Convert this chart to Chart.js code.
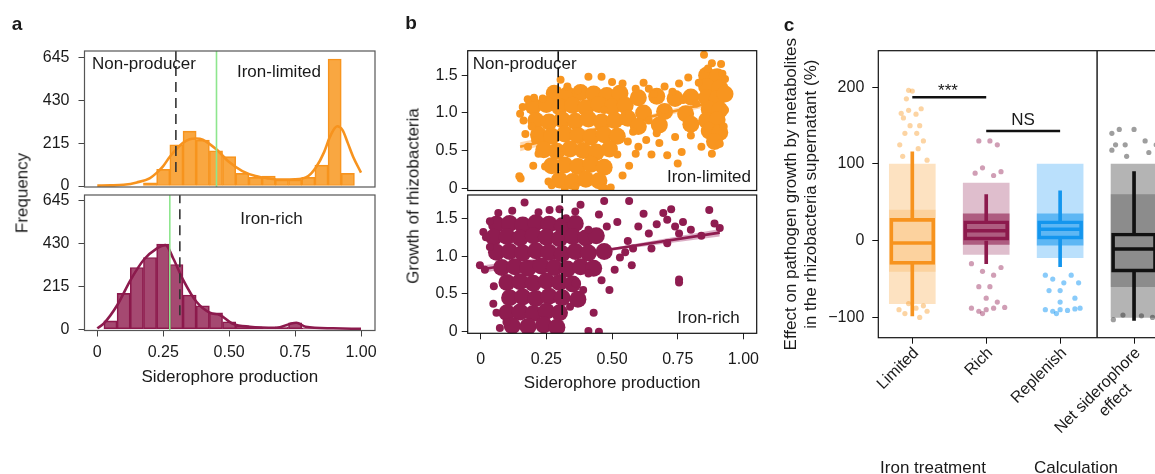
<!DOCTYPE html>
<html><head><meta charset="utf-8">
<script src="https://cdn.jsdelivr.net/npm/chart.js@4.4.1/dist/chart.umd.min.js"></script>
<style>
html,body{margin:0;padding:0;background:#fff;overflow:hidden;width:1155px;height:474px;}
#wrap{position:relative;width:1155px;height:474px;overflow:hidden;font-family:"Liberation Sans",Arial,Helvetica,sans-serif;color:#1a1a1a;}
canvas{position:absolute;left:0;top:0;}
.t{position:absolute;white-space:nowrap;font-size:17px;line-height:1;transform:translate(-50%,-50%);}
.r{transform:translate(-50%,-50%) rotate(-90deg);}
.b{font-weight:bold;font-size:19px;}
</style></head>
<body><div id="wrap"></div>
<script>
// ---------------- DATA ----------------
// Panel a: histograms of siderophore production (bin centres, counts)
const limitedBins   = [0.20,0.25,0.30,0.35,0.40,0.45,0.50,0.55,0.60,0.65,0.70,0.75,0.80,0.85,0.90,0.95];
const limitedCounts = [16,83,207,275,230,177,147,63,43,50,30,30,43,105,637,63];
const richBins      = [0.05,0.10,0.15,0.20,0.25,0.30,0.35,0.40,0.45,0.50,0.55,0.60,0.65,0.70,0.75,0.80,0.85,0.90,0.95];
const richCounts    = [42,180,310,360,427,325,172,118,83,38,18,13,10,13,33,8,4,3,2];
// density curves (scaled to counts)
const limitedKdeX = [0,0.05,0.10,0.15,0.20,0.225,0.25,0.275,0.30,0.325,0.35,0.375,0.40,0.45,0.50,0.55,0.60,0.65,0.70,0.75,0.80,0.83,0.86,0.88,0.90,0.91,0.93,0.95,0.97,1.0];
const limitedKdeY = [2,3,6,18,40,66,100,147,185,217,235,238,232,185,120,75,50,38,32,33,50,95,170,240,290,300,280,215,147,67];
const richKdeX = [0,0.025,0.076,0.126,0.177,0.225,0.259,0.288,0.326,0.376,0.427,0.465,0.515,0.578,0.68,0.73,0.755,0.79,0.894,1.0];
const richKdeY = [5,30,122,247,350,405,422,355,247,138,83,72,27,13,8,27,33,13,5,2];
// thresholds (x positions) and axis ticks
const freqTicks = [0,215,430,645];
const sidTicks = [0,0.25,0.5,0.75,1];
const sidTickLabels = ['0','0.25','0.50','0.75','1.00'];
const nonProducerLimitedA = 0.298, meanLimitedA = 0.452;
const nonProducerRichA = 0.313, meanRichA = 0.275;

// Panel b: growth vs siderophore production  [x, y]
const growthTicks = [0,0.5,1,1.5];
const growthTickLabels = ['0','0.5','1.0','1.5'];
const limitedScatter = [[0.147,0.16],[0.152,0.13],[0.15,0.99],[0.163,0.90],[0.179,1.18],[0.203,1.20],[0.236,1.19],[0.194,0.82],[0.207,0.64],[0.22,0.46],[0.245,0.29],[0.258,0.09],[0.27,0.04],[0.304,1.44],[0.28,1.30],[0.33,1.35],[0.37,1.30],[0.41,1.48],[0.46,1.48],[0.50,1.41],[0.54,1.39],[0.59,1.32],[0.64,1.32],[0.70,1.35],[0.755,1.39],[0.79,1.47],[0.85,1.77],[0.88,1.66],[0.915,1.65],[0.865,1.59],[0.92,1.52],[0.46,0.02],[0.47,0.0],[0.495,0.01],[0.54,0.17],[0.565,0.30],[0.59,0.46],[0.63,0.64],[0.67,0.73],[0.71,0.44],[0.75,0.33],[0.765,0.48],[0.74,0.68],[0.88,0.46],[0.91,0.59],[0.925,0.82],[0.93,1.04],[0.82,1.12],[0.77,1.17],[0.70,1.04],[0.64,0.90],[0.565,0.98],[0.47,1.04],[0.20,0.30],[0.18,0.55],[0.60,0.55],[0.68,0.60],[0.52,0.45],[0.56,0.62],[0.80,0.70],[0.84,0.55],[0.93,1.45],[0.83,1.40],[0.66,1.25],[0.36,0.02],[0.32,0.0],[0.17,0.72],[0.16,1.08],[0.62,1.40],[0.73,1.28],[0.58,0.75],[0.65,0.45]];
const limitedCore = [
 [0.28,1.26],[0.33,1.24],[0.38,1.27],[0.43,1.25],[0.48,1.23],[0.53,1.26],
 [0.20,1.09],[0.25,1.11],[0.30,1.08],[0.35,1.10],[0.40,1.07],[0.45,1.11],[0.50,1.08],[0.55,1.10],
 [0.21,0.90],[0.26,0.88],[0.31,0.91],[0.36,0.89],[0.41,0.92],[0.46,0.88],[0.51,0.90],[0.56,0.93],
 [0.22,0.71],[0.27,0.69],[0.32,0.72],[0.37,0.70],[0.42,0.68],[0.47,0.71],[0.52,0.69],
 [0.24,0.51],[0.29,0.49],[0.34,0.52],[0.39,0.50],[0.44,0.48],[0.49,0.52],
 [0.27,0.30],[0.32,0.31],[0.37,0.29],[0.42,0.32],[0.47,0.28],
 [0.30,0.11],[0.35,0.09],[0.40,0.12],[0.45,0.10],
 [0.60,1.20],[0.67,1.22],[0.74,1.19],[0.80,1.21],[0.62,1.00],[0.70,1.02],[0.78,0.99],[0.60,0.82],[0.68,0.84],[0.80,0.85],
 [0.86,1.50],[0.90,1.48],[0.86,1.35],[0.91,1.33],[0.86,1.20],[0.90,1.19],[0.87,1.05],[0.91,1.04],[0.86,0.90],[0.90,0.91],
 [0.87,0.76],[0.91,0.74],[0.89,0.62],[0.93,1.25]];
const richScatter = [[-0.003,0.88],[0.016,0.82],[0.01,1.32],[0.035,1.46],[0.067,1.57],[0.035,1.12],[0.048,0.37],[0.073,0.05],[0.098,0.13],[0.167,1.71],[0.262,1.61],[0.325,1.50],[0.38,1.68],[0.36,1.59],[0.47,1.73],[0.565,1.73],[0.41,0.01],[0.45,0.0],[0.43,0.25],[0.49,0.55],[0.46,0.68],[0.51,0.82],[0.575,0.88],[0.53,0.98],[0.56,1.20],[0.62,1.56],[0.695,1.57],[0.725,1.62],[0.71,1.48],[0.74,1.39],[0.755,1.30],[0.71,1.17],[0.64,1.30],[0.60,1.39],[0.87,1.61],[0.89,1.43],[0.91,1.37],[0.84,1.27],[0.755,0.69],[0.755,0.65],[0.48,1.39],[0.41,1.35],[0.36,0.64],[0.34,0.33],[0.39,0.55],[0.41,0.77],[0.02,1.25],[0.05,0.60],[0.06,0.25],[0.55,1.05],[0.65,1.10],[0.80,1.35],[0.77,1.45],[0.67,1.42],[0.12,1.60],[0.22,1.58],[0.30,1.62],[0.45,1.55],[0.52,1.45],[0.58,1.10]];
const richCore = [
 [0.06,1.42],[0.11,1.43],[0.16,1.41],[0.21,1.44],[0.26,1.42],[0.31,1.40],[0.36,1.43],
 [0.05,1.25],[0.10,1.26],[0.15,1.24],[0.20,1.27],[0.25,1.25],[0.30,1.23],[0.35,1.26],[0.40,1.24],[0.44,1.27],
 [0.06,1.05],[0.11,1.06],[0.16,1.04],[0.21,1.07],[0.26,1.05],[0.31,1.03],[0.36,1.06],[0.41,1.04],[0.47,1.06],
 [0.08,0.85],[0.13,0.86],[0.18,0.84],[0.23,0.87],[0.28,0.85],[0.33,0.83],[0.38,0.86],[0.43,0.84],
 [0.10,0.65],[0.15,0.66],[0.20,0.64],[0.25,0.67],[0.30,0.65],[0.35,0.63],
 [0.11,0.45],[0.16,0.46],[0.21,0.44],[0.26,0.47],[0.31,0.45],[0.37,0.43],
 [0.10,0.25],[0.15,0.26],[0.20,0.24],[0.25,0.27],[0.30,0.25],
 [0.12,0.08],[0.18,0.07],[0.24,0.09],[0.29,0.06]];
const limitedFitX = [0.15,0.53,0.92], limitedFitY = [0.55,0.856,1.17], limitedFitHi = [0.61,0.875,1.22], limitedFitLo = [0.49,0.837,1.12];
const richFitX = [0.01,0.46,0.91], richFitY = [0.83,1.07,1.31], richFitHi = [0.88,1.085,1.36], richFitLo = [0.78,1.055,1.26];
const nonProducerLimitedB = 0.295, nonProducerRichB = 0.31;

// Panel c: effect on pathogen growth (%)
const effectTicks = [-100,0,100,200];
const effectTickLabels = ['\u2212100','0','100','200'];
const treatments = [1,2,3,4];
const treatmentLabels = ['Limited','Rich','Replenish',['Net siderophore','effect\u2003\u2003']];
const whiskerLow  = [-98,-30,-34,-104];
const quart1      = [-31,0,2,-41];
const medians     = [-3,13,15,-11];
const quart3      = [29,26,26,10];
const whiskerHigh = [116,60,65,90];
const cloudLow    = [-82,-18,-22,-100];
const cloudHigh   = [100,75,100,100];
const coreLow     = [-40,-5,-6,-60];
const coreHigh    = [40,35,35,60];
const jitterLimited = [[0.85,166],[0.88,160],[0.95,170],[1.05,165],[1.12,172],[1.10,150],[0.97,150],[0.90,140],[1.15,130],[0.83,125],[1.00,195],[0.95,196],[1.08,120],[0.87,110],[1.20,105],[1.06,140],[0.92,185],[0.82,-90],[0.90,-95],[1.10,-100],[1.15,-85],[0.95,-82],[1.05,-88],[1.20,-92]];
const jitterRich = [[1.90,130],[2.05,130],[2.15,125],[1.95,95],[2.20,90],[1.85,88],[2.10,85],[1.80,-30],[1.95,-40],[2.10,-45],[2.20,-35],[1.90,-60],[2.05,-60],[2.00,-75],[1.80,-88],[1.90,-92],[2.00,-90],[2.10,-88],[2.25,-87],[1.95,-95],[2.15,-80]];
const jitterReplenish = [[2.80,-45],[2.90,-50],[3.05,-55],[3.15,-45],[3.25,-55],[2.85,-65],[3.00,-65],[3.20,-75],[3.00,-80],[2.80,-90],[2.90,-92],[3.00,-90],[3.10,-91],[3.20,-89],[3.27,-88],[2.95,-95]];
const jitterNet = [[3.70,140],[3.80,145],[3.88,125],[4.00,145],[3.75,125],[4.15,130],[4.30,125],[3.70,118],[3.90,110],[4.20,115],[3.72,-103],[3.85,-97],[4.10,-98],[4.25,-100]];
const sigLimitedRich = [[1,2],187];
const sigRichReplenish = [[2,3],143];

// ---------------- SETUP ----------------
const FONT = '"Liberation Sans", Arial, Helvetica, sans-serif';
Chart.defaults.font.family = FONT;
Chart.defaults.font.size = 16;
Chart.defaults.color = '#1a1a1a';
Chart.defaults.animation = false;
Chart.defaults.plugins.legend.display = false;
Chart.defaults.plugins.tooltip.enabled = false;

const ORANGE = '#F7931E', ORANGE_FILL = 'rgba(248,152,32,0.85)';
const MAROON = '#8C1A4D', MAROON_FILL = 'rgba(142,27,78,0.80)';
const BLUE = '#1496EE';
const GREEN = '#8EE68E';
const wrap = document.getElementById('wrap');

const framePlugin = {
  id:'frame',
  afterDraw(chart, args, opts){
    const {ctx, chartArea:a} = chart;
    ctx.save(); ctx.strokeStyle = opts.color || '#111'; ctx.lineWidth = opts.width || 1.2;
    ctx.strokeRect(a.left, a.top, a.right-a.left, a.bottom-a.top); ctx.restore();
  }
};

function canvas(w,h){
  const c = document.createElement('canvas'); c.width=w; c.height=h;
  c.style.width=w+'px'; c.style.height=h+'px'; wrap.appendChild(c); return c.getContext('2d');
}
function axis(pos, min, max, vals, labels, size, o){
  o = o || {};
  const hor = (pos === 'bottom');
  const shown = o.display !== false;
  return {
    type:'linear', position:pos, min, max, offset:false, display:shown,
    afterBuildTicks: s => { s.ticks = vals.map(v => ({value:v})); },
    afterFit: s => { if (!shown) return; if (hor) s.height = size; else s.width = size; },
    ticks:{ autoSkip:false, padding:(o.pad !== undefined ? o.pad : 6), labelOffset:o.lo || 0, color:'#1a1a1a', font:{size:16},
            maxRotation:o.rot || 0, minRotation:o.rot || 0, callback:(v,i) => labels[i] },
    grid:{ display:true, drawOnChartArea:false, drawTicks:true, tickLength:6, color:o.tc || '#222', offset:false },
    border:{ display:false },
    title: o.title ? { display:true, text:o.title, font:{size:17}, color:'#1a1a1a', padding:0 } : { display:false }
  };
}
const pts = arr => arr.map(p => ({x:p[0], y:p[1]}));
const zipXY = (xs, ys) => xs.map((x,i) => ({x, y:ys[i]}));
const vline = (x, y0, y1) => [{x, y:y0}, {x, y:y1}];

function lineDS(data, color, width, dash, order){
  return { type:'line', data, borderColor:color, borderWidth:width, borderDash:dash || [], pointRadius:0, fill:false, order, tension:0 };
}

// ---------------- PANEL a ----------------
function histChart(top, bottom, yMin, yMax, bins, counts, kx, ky, fill, edge, dashX, dashFrom, greenX, showX){
  const padBottom = showX ? 86.8 : 474 - bottom;
  new Chart(canvas(1155,474), {
    type:'bar',
    data:{ datasets:[
      lineDS(vline(dashX, dashFrom, yMax), '#333', 1.6, [10,6], 0),
      lineDS(vline(greenX, yMin, yMax), GREEN, 1.6, [], 1),
      Object.assign(lineDS(zipXY(kx, ky), edge, 2.6, [], 2), {cubicInterpolationMode:'monotone'}),
      { type:'bar', data:zipXY(bins, counts), backgroundColor:fill, borderColor:edge, borderWidth:1,
        barPercentage:1, categoryPercentage:1, grouped:false, borderSkipped:false, order:5 }
    ]},
    options:{
      responsive:false, animation:false,
      layout:{ padding:{ left:0, top:top, right:780, bottom:padBottom } },
      scales:{
        x: axis('bottom', -0.0485, 1.053, sidTicks, sidTickLabels, 56.7, {display:showX, pad:6, tc:'#444', title:'Siderophore production'}),
        y: axis('left', yMin, yMax, freqTicks, freqTicks.map(String), 84.5, {pad:9, tc:'#444'})
      },
      plugins:{ frame:{ color:'#555' } }
    },
    plugins:[framePlugin]
  });
}
histChart(51, 187, -5, 677, limitedBins, limitedCounts, limitedKdeX, limitedKdeY, ORANGE_FILL, ORANGE, nonProducerLimitedA, 70, meanLimitedA, false);
histChart(195, 330.5, -6, 673.6, richBins, richCounts, richKdeX, richKdeY, MAROON_FILL, MAROON, nonProducerRichA, 70, meanRichA, true);

// ---------------- PANEL b ----------------
function scatterChart(top, bottom, yMin, yMax, scatter, core, fx, fy, fhi, flo, color, bandColor, dashX, dashFrom, showX){
  const padBottom = showX ? 80.8 : 474 - bottom;
  new Chart(canvas(1155,474), {
    type:'scatter',
    data:{ datasets:[
      lineDS(vline(dashX, dashFrom, yMax), '#111', 1.6, [10,6], 0),
      { type:'scatter', data:pts(scatter), backgroundColor:color, borderWidth:0, pointRadius:4, order:1 },
      { type:'scatter', data:pts(core), backgroundColor:color, borderWidth:0, pointRadius:8.5, order:2 },
      lineDS(zipXY(fx, fy), color, 2.6, [], 3),
      { type:'line', data:zipXY(fx, fhi), borderWidth:0, pointRadius:0, backgroundColor:bandColor, fill:'+1', order:4 },
      { type:'line', data:zipXY(fx, flo), borderWidth:0, pointRadius:0, fill:false, order:5 }
    ]},
    options:{
      responsive:false, animation:false,
      layout:{ padding:{ left:0, top:top, right:398.3, bottom:padBottom } },
      scales:{
        x: axis('bottom', -0.0495, 1.0506, sidTicks, sidTickLabels, 59.9, {display:showX, pad:11, title:'Siderophore production'}),
        y: axis('left', yMin, yMax, growthTicks, growthTickLabels, 467.7, {pad:4})
      },
      plugins:{ frame:{ color:'#111' } }
    },
    plugins:[framePlugin]
  });
}
scatterChart(50.7, 190.5, -0.029, 1.825, limitedScatter, limitedCore, limitedFitX, limitedFitY, limitedFitHi, limitedFitLo,
  '#F8951F', 'rgba(255,175,90,0.5)', nonProducerLimitedB, 0.2, false);
scatterChart(195, 333.3, -0.021, 1.808, richScatter, richCore, richFitX, richFitY, richFitHi, richFitLo,
  '#8F1C50', 'rgba(195,120,158,0.6)', nonProducerRichB, 0.22, true);

// ---------------- PANEL c ----------------
const boxColors = ['#F7931E', '#8C1A4D', BLUE, '#111111'];
const cloudColors = ['rgba(249,160,50,0.30)','rgba(150,40,90,0.30)','rgba(40,160,245,0.32)','rgba(40,40,40,0.35)'];
const coreColors = ['rgba(249,160,50,0.25)','rgba(140,26,77,0.60)','rgba(20,150,238,0.55)','rgba(20,20,20,0.25)'];
const jitterColors = ['rgba(249,160,50,0.45)','rgba(150,40,90,0.45)','rgba(40,160,245,0.55)','rgba(40,40,40,0.45)'];
const jitters = [jitterLimited, jitterRich, jitterReplenish, jitterNet];
const cDatasets = [];
treatments.forEach((t,i) => {
  cDatasets.push({ type:'bar', data:[{x:t, y:[cloudLow[i], cloudHigh[i]]}], backgroundColor:cloudColors[i], borderWidth:0,
    barThickness:46, grouped:false, order:20 });
  cDatasets.push({ type:'bar', data:[{x:t, y:[coreLow[i], coreHigh[i]]}], backgroundColor:coreColors[i], borderWidth:0,
    barThickness:46, grouped:false, order:19 });
  cDatasets.push({ type:'scatter', data:pts(jitters[i]), backgroundColor:jitterColors[i], borderWidth:0, pointRadius:2.6, order:18 });
  cDatasets.push({ type:'bar', data:[{x:t, y:[quart3[i], whiskerHigh[i]]}, {x:t, y:[whiskerLow[i], quart1[i]]}],
    backgroundColor:boxColors[i], borderWidth:0, barThickness:3, grouped:false, order:10 });
  cDatasets.push({ type:'bar', data:[{x:t, y:[quart1[i], quart3[i]]}], backgroundColor:'rgba(0,0,0,0)', borderColor:boxColors[i],
    borderWidth:3, borderSkipped:false, barThickness:45, grouped:false, order:9 });
  cDatasets.push({ type:'scatter', data:[{x:t, y:medians[i]}], pointStyle:'line', pointRadius:22, borderColor:boxColors[i],
    borderWidth:3.5, order:8 });
});
cDatasets.push(lineDS(vline(3.5, -126.5, 247.7), '#111', 1.4, [], 1));
cDatasets.push(lineDS([{x:sigLimitedRich[0][0], y:sigLimitedRich[1]}, {x:sigLimitedRich[0][1], y:sigLimitedRich[1]}], '#111', 2.6, [], 1));
cDatasets.push(lineDS([{x:sigRichReplenish[0][0], y:sigRichReplenish[1]}, {x:sigRichReplenish[0][1], y:sigRichReplenish[1]}], '#111', 2.6, [], 1));

new Chart(canvas(1200,474), {
  type:'bar',
  data:{ datasets:cDatasets },
  options:{
    responsive:false, animation:false,
    layout:{ padding:{ left:780.8, top:50.7, right:29, bottom:0 } },
    scales:{
      x: axis('bottom', 0.54, 4.5, treatments, treatmentLabels, 136.3, {pad:0, lo:4, rot:45, tc:'#111'}),
      y: Object.assign(axis('left', -126.5, 247.7, effectTicks, effectTickLabels, 97.5, {pad:8, tc:'#111'}),
         { title:{ display:true, text:['Effect on pathogen growth by metabolites','in the rhizobacteria supernatant (%)'],
                   font:{size:17}, color:'#1a1a1a', padding:0 } })
    },
    plugins:{ frame:{ color:'#111' } }
  },
  plugins:[framePlugin]
});

// ---------------- TEXT ----------------
function txt(s, x, y, cls){
  const d = document.createElement('div'); d.className = 't ' + (cls || ''); d.textContent = s;
  d.style.left = x + 'px'; d.style.top = y + 'px'; wrap.appendChild(d);
}
txt('a', 17, 23, 'b'); txt('b', 411, 22, 'b'); txt('c', 789, 24, 'b');
txt('Frequency', 22, 193, 'r');
txt('Growth of rhizobacteria', 413, 196, 'r');
txt('Non-producer', 144, 63); txt('Iron-limited', 279, 71); txt('Iron-rich', 271.5, 218);
txt('Non-producer', 524.7, 63); txt('Iron-limited', 709, 176); txt('Iron-rich', 708.5, 316.7);
txt('***', 948, 90); txt('NS', 1023, 119);
txt('Iron treatment', 933, 467); txt('Calculation', 1076, 467);
</script>
</body></html>
